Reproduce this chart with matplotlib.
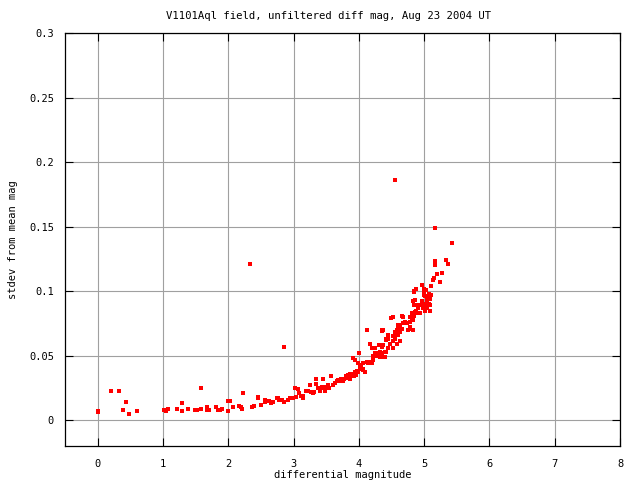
import matplotlib
matplotlib.use('Agg')
import matplotlib.pyplot as plt

# differential magnitude vs stdev
mag = [0.0, 0.01, 0.2, 0.32, 0.43, 0.39, 0.48, 0.6,
       1.01, 1.04, 1.07, 1.22, 1.29, 1.29, 1.38, 1.49, 1.52, 1.59, 1.59,
       1.68, 1.68, 1.71, 1.81, 1.85, 1.88, 1.91, 1.99, 2.0, 2.02, 2.08,
       2.16, 2.19, 2.21, 2.22, 2.36, 2.40, 2.45, 2.45, 2.50, 2.56, 2.57,
       2.60, 2.63, 2.65, 2.66, 2.68, 2.74,
       2.34, 2.85, 4.55,
       2.76, 2.78, 2.83, 2.86, 2.91, 2.94, 2.99, 3.04, 3.02, 3.07, 3.08,
       3.12, 3.14, 3.14, 3.19, 3.22, 3.25, 3.27, 3.30, 3.32, 3.34, 3.35,
       3.37, 3.40, 3.43, 3.45, 3.45, 3.48, 3.50, 3.53, 3.55, 3.58, 3.61,
       3.63, 3.66, 3.68, 3.71, 3.73, 3.76, 3.78, 3.81, 3.84, 3.86, 3.89,
       3.91, 3.94, 3.96, 3.99, 4.07, 3.80, 3.87, 3.92, 3.97, 4.02,
       3.91, 3.94, 4.0, 3.99, 4.02, 4.04, 4.07, 4.09, 4.07, 4.12, 4.14,
       4.17, 4.2, 4.22, 4.17, 4.2, 4.22, 4.25, 4.27, 4.3, 4.32, 4.32,
       4.25, 4.31, 4.35, 4.37, 4.4, 4.35, 4.12, 4.42, 4.45, 4.48, 4.45,
       4.53, 4.55, 4.58, 4.6, 4.63,
       4.84, 5.0, 5.0, 4.86, 4.84, 4.89, 4.94, 4.96, 4.99, 5.04, 5.04,
       4.99, 4.91, 4.89, 4.86, 4.81, 4.78, 4.81, 4.84, 4.66, 4.68, 4.71,
       4.73, 4.78, 4.79, 4.75, 4.52, 4.63, 4.6, 4.58, 4.55, 4.53, 4.55,
       4.53, 4.58, 4.63, 4.66, 4.68, 4.37, 4.45, 4.42, 4.40, 4.35, 4.35,
       5.17, 5.43, 5.17, 5.17, 5.33, 5.37, 5.27, 5.20, 5.15, 5.14, 5.25,
       4.96, 4.87, 4.84, 5.0, 5.03, 5.1, 5.08, 5.1, 5.07, 5.02, 5.04,
       5.09, 5.02, 5.07, 5.09, 5.04, 5.02, 5.09, 4.83, 4.88, 4.93, 4.81,
       4.83, 4.78, 4.83, 4.5, 4.41, 4.36, 4.6]
stdev = [0.006, 0.0075, 0.023, 0.023, 0.014, 0.008, 0.005, 0.007,
         0.008, 0.007, 0.009, 0.009, 0.013, 0.007, 0.009, 0.008, 0.008, 0.025, 0.009,
         0.010, 0.008, 0.008, 0.010, 0.008, 0.008, 0.009, 0.007, 0.015, 0.015, 0.010,
         0.011, 0.010, 0.009, 0.021, 0.010, 0.011, 0.018, 0.017, 0.012, 0.016, 0.014,
         0.015, 0.015, 0.014, 0.013, 0.014, 0.017,
         0.121, 0.057, 0.186,
         0.017, 0.016, 0.016, 0.014, 0.016, 0.017, 0.017, 0.018, 0.025, 0.024, 0.021,
         0.019, 0.017, 0.019, 0.023, 0.023, 0.027, 0.022, 0.021, 0.022, 0.032, 0.028,
         0.025, 0.023, 0.026, 0.032, 0.025, 0.023, 0.026, 0.027, 0.025, 0.034, 0.027,
         0.029, 0.030, 0.031, 0.030, 0.032, 0.030, 0.032, 0.034, 0.035, 0.032, 0.034,
         0.036, 0.037, 0.035, 0.037, 0.039, 0.033, 0.036, 0.034, 0.038, 0.040,
         0.048, 0.047, 0.052, 0.044, 0.043, 0.041, 0.040, 0.037, 0.044, 0.045, 0.044,
         0.045, 0.044, 0.047, 0.059, 0.056, 0.050, 0.052, 0.050, 0.052, 0.053, 0.049,
         0.056, 0.058, 0.057, 0.058, 0.053, 0.069, 0.070, 0.062, 0.063, 0.059, 0.066,
         0.056, 0.068, 0.067, 0.066, 0.068,
         0.099, 0.099, 0.097, 0.093, 0.089, 0.089, 0.089, 0.092, 0.090, 0.090, 0.088,
         0.087, 0.087, 0.083, 0.084, 0.083, 0.080, 0.079, 0.081, 0.081, 0.080, 0.076,
         0.075, 0.076, 0.072, 0.070, 0.080, 0.074, 0.071, 0.070, 0.065, 0.065, 0.063,
         0.061, 0.059, 0.061, 0.071, 0.075, 0.070, 0.056, 0.053, 0.049, 0.052, 0.049,
         0.149, 0.137, 0.123, 0.120, 0.124, 0.121, 0.114, 0.113, 0.110, 0.109, 0.107,
         0.105, 0.102, 0.100, 0.102, 0.101, 0.104, 0.098, 0.097, 0.096, 0.096, 0.093,
         0.094, 0.090, 0.090, 0.089, 0.087, 0.085, 0.085, 0.092, 0.085, 0.083, 0.081,
         0.078, 0.071, 0.070, 0.079, 0.063, 0.070, 0.074]

xticks = [0, 1, 2, 3, 4, 5, 6, 7, 8]
yticks = [0, 0.05, 0.1, 0.15, 0.2, 0.25, 0.3]
ytick_labels = ['0', '0.05', '0.1', '0.15', '0.2', '0.25', '0.3']

plt.rcParams['font.family'] = 'DejaVu Sans Mono'
plt.rcParams['font.size'] = 7.5

fig = plt.figure(figsize=(6.4, 4.8), dpi=100)
ax = fig.add_axes([0.1016, 0.0708, 0.8672, 0.8604])

ax.plot(mag, stdev, linestyle='none', marker='s', markersize=2.3,
        markerfacecolor='#ff0000', markeredgewidth=0, zorder=3)

ax.set_xlim(-0.5, 8)
ax.set_ylim(-0.02, 0.3)
ax.set_xticks(xticks)
ax.set_yticks(yticks)
ax.set_yticklabels(ytick_labels)

ax.grid(True, color='#a0a0a0', linewidth=0.8, linestyle='-')
ax.tick_params(direction='in', length=6, width=0.8, top=True, right=True,
               pad=8)
ax.tick_params(axis='x', pad=9)
for s in ax.spines.values():
    s.set_linewidth(0.9)

fig.text(0.513, 0.966, 'V1101Aql field, unfiltered diff mag, Aug 23 2004 UT',
         ha='center', va='center', fontsize=7.7)
ax.set_xlabel('differential magnitude', labelpad=1)
ax.set_ylabel('stdev from mean mag', labelpad=8)

fig.savefig('out.png', dpi=100)
